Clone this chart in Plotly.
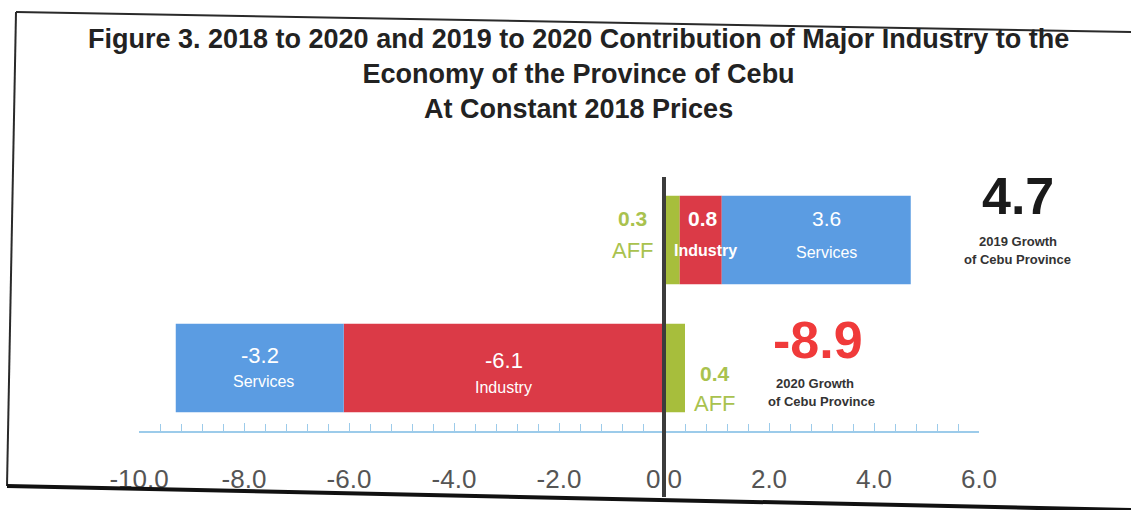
import numpy as np
import plotly.graph_objects as go

# ---------------- data ----------------
years = [2019, 2020]
aff = [0.3, 0.4]
industry = [0.8, -6.1]
services = [3.6, -3.2]
series_names = ["AFF", "Industry", "Services"]
tick_vals = [-10, -8, -6, -4, -2, 0, 2, 4, 6]
tick_text = ["-10.0", "-8.0", "-6.0", "-4.0", "-2.0", "0.0", "2.0", "4.0", "6.0"]
title_lines = [
    "Figure 3. 2018 to 2020 and 2019 to 2020 Contribution of Major Industry to the",
    "Economy of the Province of Cebu",
    "At Constant 2018 Prices",
]

# ---------------- styles ----------------
GREEN = "#A7BE3C"
GREEN_TXT = "#A9C24E"
RED = "#DB3A47"
BLUE = "#5B9CE2"
DARK = "#333333"
AXIS_BLUE = "#9CCBEA"
W, H = 1131, 510
ypos = {2019: 1, 2020: 0}
yv = [ypos[y] for y in years]
XR = [-10, 6]
XD = [139 / W, 979 / W]


def xpaper(v):
    return XD[0] + (v - XR[0]) / (XR[1] - XR[0]) * (XD[1] - XD[0])


fig = go.Figure()
for name, vals, col in [("AFF", aff, GREEN), ("Industry", industry, RED), ("Services", services, BLUE)]:
    fig.add_trace(go.Bar(
        y=yv, x=vals, name=name, orientation="h", width=0.69,
        marker=dict(color=col, line=dict(width=0)), showlegend=False,
        hoverinfo="x+name",
    ))

ann = []
SANS = "Liberation Sans, Arial, sans-serif"


def add(text, x, y, yshift=0, xshift=0, size=16, color="white", bold=False, family=SANS,
        xref="x", yref="y", angle=0):
    ann.append(dict(text=text, x=x, y=y, xref=xref, yref=yref, showarrow=False,
                    xanchor="center", yanchor="middle", xshift=xshift, yshift=yshift,
                    textangle=angle,
                    font=dict(size=size, color=color, family=family,
                              weight="bold" if bold else "normal")))


for i, yr in enumerate(years):
    y = ypos[yr]
    v = industry[i]
    base = aff[i] if v > 0 else 0
    mid = base + v / 2
    s = services[i]
    sbase = (aff[i] + industry[i]) if s > 0 else min(industry[i], 0)
    smid = sbase + s / 2
    total = round(aff[i] + industry[i] + services[i], 1)
    if yr == 2019:
        add(f"{v:.1f}", mid, y, yshift=22, size=21, bold=True, xshift=2)
        add("Industry", mid, y, yshift=-10, size=16, bold=True, xshift=5)
        add(f"{s:.1f}", smid, y, yshift=22, size=21, xshift=10)
        add("Services", smid, y, yshift=-12, size=16, xshift=10)
        add(f"{aff[i]:.1f}", -0.6, y, yshift=22, size=21, bold=True, color=GREEN_TXT)
        add("AFF", -0.6, y, yshift=-10, size=22, color=GREEN_TXT)
        add(f"{total:.1f}", xpaper(6.74), y, xref="paper", yshift=44, size=52, bold=True, color="#1a1a1a")
        add(f"{yr} Growth", xpaper(6.74), y, xref="paper", yshift=-1, size=13, bold=True, color=DARK)
        add("of Cebu Province", xpaper(6.74), y, xref="paper", yshift=-19, size=13, bold=True, color=DARK)
    else:
        add(f"{v:.1f}", mid, y, yshift=8, size=22)
        add("Industry", mid, y, yshift=-19, size=16)
        add(f"{s:.1f}", smid, y, yshift=13, size=22)
        add("Services", smid, y, yshift=-13, size=16, xshift=4)
        add(f"{aff[i]:.1f}", 0.97, y, yshift=-5, size=21, bold=True, color=GREEN_TXT)
        add("AFF", 0.97, y, yshift=-35, size=22, color=GREEN_TXT)
        add(f"{total:.1f}", 2.93, y, yshift=28, size=52, bold=True, color="#F03A3A")
        add(f"{yr} Growth", 2.93, y, yshift=-15, size=13, bold=True, color=DARK, xshift=-3)
        add("of Cebu Province", 2.93, y, yshift=-33, size=13, bold=True, color=DARK, xshift=4)

# title as one multi-line block
add("<br>".join(title_lines), 578 / W, 1 - 74 / H, size=27, bold=True, color="#222222",
    xref="paper", yref="paper")

fig.update_layout(annotations=ann)

shapes = [
    dict(type="line", xref="x", yref="paper", x0=0, x1=0, y0=1 - 177 / H, y1=1 - 497 / H,
         line=dict(color="#3c3c3c", width=4), layer="above"),
    dict(type="line", xref="paper", yref="paper", x0=16 / W, y0=1 - 12 / H, x1=1, y1=1 - 32 / H,
         line=dict(color="#2a2a2a", width=2)),
    dict(type="line", xref="paper", yref="paper", x0=16 / W, y0=1 - 12 / H, x1=7 / W, y1=1 - 486 / H,
         line=dict(color="#2a2a2a", width=2)),
    dict(type="line", xref="paper", yref="paper", x0=7 / W, y0=1 - 486 / H, x1=1, y1=1 - 510 / H,
         line=dict(color="#111111", width=4)),
]
fig.update_layout(shapes=shapes)

minor_vals = list(np.round(np.arange(-10, 6.001, 0.4), 2))
fig.update_layout(
    width=W, height=H, autosize=False,
    margin=dict(l=0, r=0, t=0, b=0, pad=0),
    paper_bgcolor="white", plot_bgcolor="white",
    barmode="relative",
    xaxis=dict(
        domain=XD, range=XR, automargin=False,
        anchor="free", position=1 - 432 / H,
        tickmode="array", tickvals=tick_vals, ticktext=tick_text,
        ticks="inside", ticklen=8, tickcolor=AXIS_BLUE, tickwidth=1,
        minor=dict(tickmode="array", tickvals=minor_vals, ticks="inside", ticklen=7,
                   tickcolor=AXIS_BLUE, tickwidth=1),
        showline=True, linecolor=AXIS_BLUE, linewidth=1.5,
        showgrid=False, zeroline=False,
        tickfont=dict(family=SANS, size=26, color="#555555"),
        ticklabelstandoff=24,
        fixedrange=True,
    ),
    yaxis=dict(visible=False, automargin=False,
               range=[-(510 - 368) / 128, 1 + 240 / 128], fixedrange=True),
)

fig.write_html("out.html", config={"displayModeBar": False},
               post_script="document.body.style.margin='0';document.body.style.overflow='hidden';")
